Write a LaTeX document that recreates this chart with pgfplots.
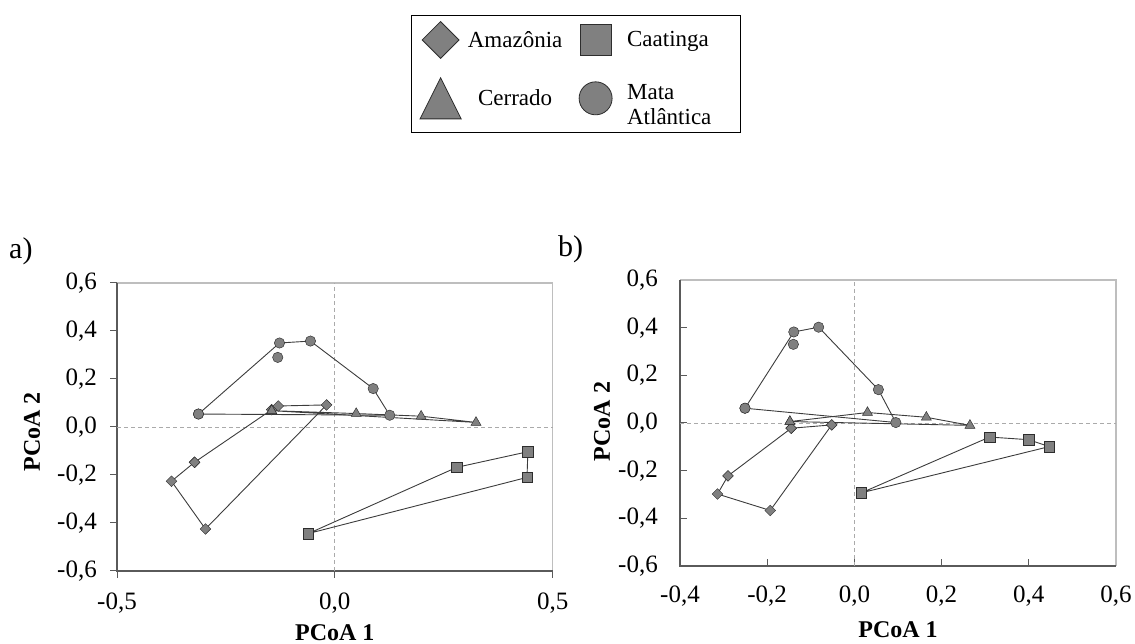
\documentclass[border=0pt]{standalone}
\usepackage{fontspec}
\setmainfont{Liberation Serif}
\usepackage{pgfplots}
\pgfplotsset{compat=1.18}

\definecolor{mfill}{RGB}{128,128,128}
\definecolor{mdraw}{RGB}{45,45,45}
\definecolor{lcol}{RGB}{60,60,60}
\definecolor{axdark}{RGB}{90,90,90}
\definecolor{axlight}{RGB}{190,190,190}
\definecolor{zerocol}{RGB}{170,170,170}
\newcommand\lgf{\fontsize{23}{25}\selectfont}

\pgfplotsset{
  pcoa/.style={
    scale only axis,
    axis line style={draw=none},
    tick pos=left,
    major tick length=7pt,
    every tick/.style={axdark, line width=1pt},
    tick label style={font=\fontsize{25}{29}\selectfont},
    label style={font=\fontsize{24}{28}\selectfont\bfseries, inner sep=0pt},
    clip=false,
  },
  hull/.style={lcol, line width=0.9pt, mark options={fill=mfill, draw=mdraw, line width=0.45pt, solid}},
  dia/.style={lcol, line width=0.9pt, mark=square*, mark size=3.8pt, mark options={fill=mfill, draw=mdraw, line width=0.45pt, solid, rotate=45}},
  sqr/.style={hull, mark=square*, mark size=5.2pt},
  tri/.style={hull, mark=triangle*, mark size=5.8pt},
  cir/.style={hull, mark=*, mark size=5.2pt},
}

\begin{document}
\begin{tikzpicture}
\useasboundingbox (0pt,0pt) rectangle (1135pt,644pt);

\node[anchor=west, inner sep=0pt, font=\fontsize{30}{34}\selectfont] at (9pt,393pt) {a)};
\node[anchor=west, inner sep=0pt, font=\fontsize{30}{34}\selectfont] at (558pt,395pt) {b)};

% ---------------- panel a ----------------
\begin{axis}[pcoa,
  at={(117pt,73pt)}, anchor=south west,
  width=435.7pt, height=288pt,
  xmin=-0.5, xmax=0.5, ymin=-0.6, ymax=0.6,
  tick align=outside,
  xtick={-0.5,0,0.5}, xticklabels={{-0,5},{0,0},{0,5}},
  xticklabel style={anchor=north, inner sep=0pt, yshift=-15pt},
  ytick={-0.6,-0.4,-0.2,0,0.2,0.4,0.6},
  yticklabels={{-0,6},{-0,4},{-0,2},{0,0},{0,2},{0,4},{0,6}},
  yticklabel style={anchor=east, inner sep=0pt, xshift=-13pt},
  xlabel={PCoA 1}, ylabel={PCoA 2},
  xlabel style={at={(axis description cs:0.5,-0.215)}, anchor=center},
  ylabel style={at={(axis description cs:-0.195,0.483)}, anchor=center},
  legend columns=2,
  legend style={at={(0.6748,1.9306)}, anchor=north west,
    draw=black, line width=1.2pt, inner xsep=7pt, inner ysep=6pt,
    font=\lgf, row sep=12pt,
    cells={anchor=center}, nodes={inner sep=0pt},
    /tikz/every odd column/.append style={column sep=7.5pt},
    /tikz/every even column/.append style={column sep=13.5pt}},
]
\draw[axlight, line width=1.5pt] (rel axis cs:0,1) -- (rel axis cs:1,1) -- (rel axis cs:1,0);
\draw[axdark, line width=1.5pt] (rel axis cs:0,1) -- (rel axis cs:0,0) -- (rel axis cs:1,0);
\addplot[zerocol, line width=0.8pt, dash pattern=on 4pt off 3pt, forget plot] coordinates {(0,-0.6) (0,0.6)};
\addplot[zerocol, line width=0.8pt, dash pattern=on 4pt off 3pt, forget plot] coordinates {(-0.5,0) (0.5,0)};

\addlegendimage{legend image code/.code={
  \path[draw=none, fill=none] (-22pt,-18pt) rectangle (22pt,18pt);
  \path[draw=mdraw, fill=mfill, line width=0.8pt] plot[mark=square*, mark size=13pt, mark options={rotate=45}] coordinates {(0pt,0pt)};}}
\addlegendentry{\lgf\makebox[90pt]{Amazônia}}
\addlegendimage{legend image code/.code={
  \path[draw=none, fill=none] (-22pt,-18pt) rectangle (22pt,18pt);
  \path[draw=mdraw, fill=mfill, line width=0.8pt] plot[mark=square*, mark size=15.5pt] coordinates {(0pt,0pt)};}}
\addlegendentry{\lgf\makebox[108.5pt][l]{\hspace{2pt}Caatinga}}
\addlegendimage{legend image code/.code={
  \path[draw=none, fill=none] (-22pt,-28pt) rectangle (22pt,28pt);
  \path[draw=mdraw, fill=mfill, line width=0.8pt] plot[mark=triangle*, mark size=23.7pt, mark options={yscale=1.155}] coordinates {(0pt,-6.85pt)};}}
\addlegendentry{\lgf\makebox[90pt]{Cerrado}}
\addlegendimage{legend image code/.code={
  \path[draw=none, fill=none] (-22pt,-28pt) rectangle (22pt,28pt);
  \path[draw=mdraw, fill=mfill, line width=0.8pt] plot[mark=*, mark size=16.5pt] coordinates {(0pt,0pt)};}}
\addlegendentry{\lgf\parbox[c]{108.5pt}{\lgf\leftskip=2pt Mata\\Atlântica}}

% Amazonia
\addplot[dia, forget plot] coordinates {(-0.322,-0.147) (-0.145,0.072) (-0.130,0.0875) (-0.019,0.092) (-0.297,-0.425) (-0.375,-0.226) (-0.322,-0.147)};
% Caatinga
\addplot[sqr, forget plot] coordinates {(-0.061,-0.444) (0.280,-0.168) (0.443,-0.103) (0.441,-0.210) (-0.061,-0.444)};
% Cerrado
\addplot[tri, forget plot] coordinates {(-0.145,0.068) (0.049,0.056) (0.198,0.045) (0.324,0.019) (-0.145,0.068)};
% Mata Atlantica
\addplot[cir, forget plot] coordinates {(-0.313,0.054) (-0.127,0.350) (-0.056,0.358) (0.088,0.160) (0.126,0.049) (-0.313,0.054)};
\addplot[cir, only marks, forget plot] coordinates {(-0.131,0.290)};
\end{axis}

% ---------------- panel b ----------------
\begin{axis}[pcoa,
  at={(680pt,78pt)}, anchor=south west,
  width=436pt, height=286pt,
  xmin=-0.4, xmax=0.6, ymin=-0.6, ymax=0.6,
  tick align=inside,
  xtick={-0.4,-0.2,0,0.2,0.4,0.6},
  xticklabels={{-0,4},{-0,2},{0,0},{0,2},{0,4},{0,6}},
  xticklabel style={anchor=north, inner sep=0pt, yshift=-20pt},
  ytick={-0.6,-0.4,-0.2,0,0.2,0.4,0.6},
  yticklabels={{-0,6},{-0,4},{-0,2},{0,0},{0,2},{0,4},{0,6}},
  yticklabel style={anchor=east, inner sep=0pt, xshift=-22pt},
  xlabel={PCoA 1}, ylabel={PCoA 2},
  xlabel style={at={(axis description cs:0.5,-0.224)}, anchor=center},
  ylabel style={at={(axis description cs:-0.179,0.505)}, anchor=center},
]
\draw[axlight, line width=1.5pt] (rel axis cs:0,1) -- (rel axis cs:1,1) -- (rel axis cs:1,0);
\draw[axdark, line width=1.5pt] (rel axis cs:0,1) -- (rel axis cs:0,0) -- (rel axis cs:1,0);
\addplot[zerocol, line width=0.8pt, dash pattern=on 4pt off 3pt] coordinates {(0,-0.6) (0,0.6)};
\addplot[zerocol, line width=0.8pt, dash pattern=on 4pt off 3pt] coordinates {(-0.4,0) (0.6,0)};

\addplot[dia] coordinates {(-0.145,-0.022) (-0.052,-0.008) (-0.193,-0.367) (-0.314,-0.298) (-0.290,-0.222) (-0.145,-0.022)};
\addplot[sqr] coordinates {(0.016,-0.293) (0.310,-0.059) (0.3995,-0.070) (0.447,-0.099) (0.016,-0.293)};
\addplot[tri] coordinates {(-0.148,0.006) (0.030,0.044) (0.165,0.024) (0.265,-0.010) (-0.148,0.006)};
\addplot[cir] coordinates {(-0.251,0.062) (-0.139,0.382) (-0.082,0.402) (0.055,0.140) (0.095,0.002) (-0.251,0.062)};
\addplot[cir, only marks] coordinates {(-0.140,0.330)};
\end{axis}
\end{tikzpicture}
\end{document}
